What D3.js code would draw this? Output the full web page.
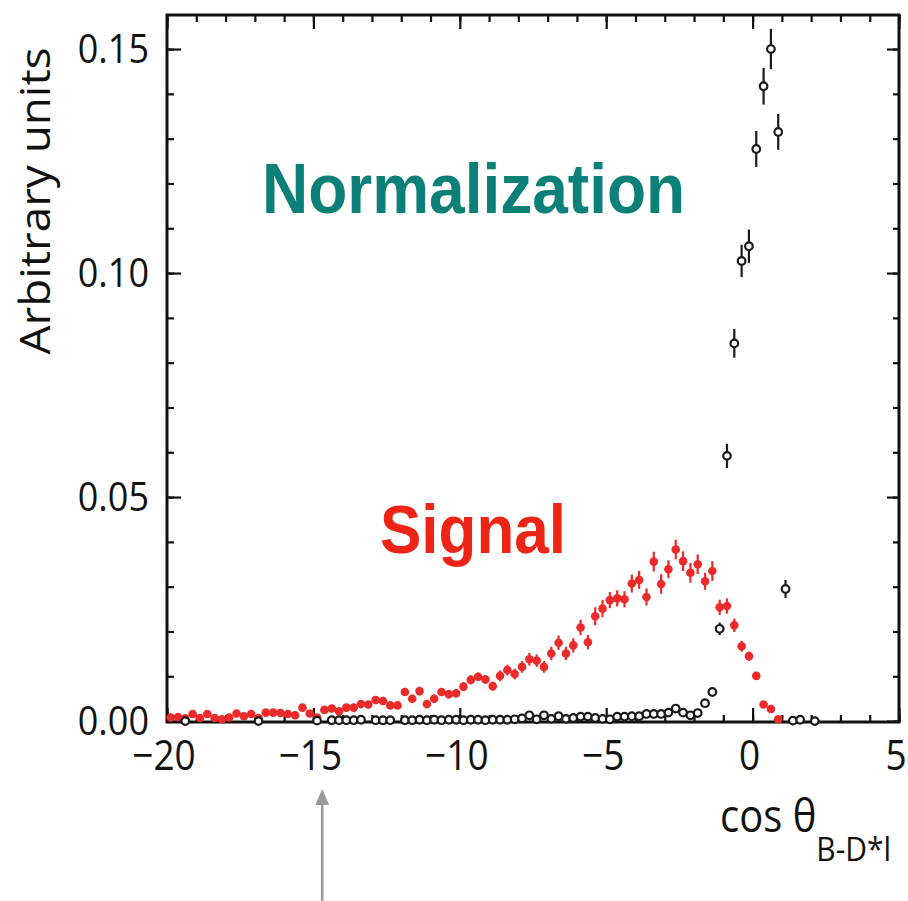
<!DOCTYPE html>
<html>
<head>
<meta charset="utf-8">
<script src="https://cdn.jsdelivr.net/npm/d3@7"></script>
<style>
  body { margin: 0; background: #fff; }
  svg { display: block; }
</style>
</head>
<body>
<svg id="chart" width="908" height="901"></svg>
<script>
// histogram binning: 0.25 wide bins from -20
var binLow = -20, binWidth = 0.25;

// signal (red, filled) - one value per bin, starting at bin 0
var signalVals = [0.0008,0.0009,0.0006,0.0016,0.0007,0.0016,0.0007,0.0004,0.0008,0.0017,
  0.0011,0.0016,0.0007,0.0019,0.0019,0.0018,0.0016,0.0013,0.0030,0.0017,
  0.0008,0.0025,0.0028,0.0022,0.0030,0.0030,0.0038,0.0037,0.0047,0.0045,
  0.0035,0.0035,0.0065,0.0050,0.0067,0.0038,0.0050,0.0065,0.0060,0.0062,
  0.0077,0.0092,0.0099,0.0093,0.0078,0.0101,0.0114,0.0105,0.0121,0.0138,
  0.0135,0.0121,0.0151,0.0175,0.0151,0.0169,0.0209,0.0176,0.0234,0.0251,
  0.0270,0.0274,0.0272,0.0307,0.0315,0.0277,0.0356,0.0306,0.0339,0.0383,
  0.0357,0.0331,0.0350,0.0312,0.0335,0.0254,0.0257,0.0214,0.0167,0.0145,
  0.0101,0.0037,0.0027,0.0004];
var signalErr = [0.0006,0.0006,0.0006,0.0006,0.0006,0.0006,0.0006,0.0006,0.0006,0.0006,
  0.0006,0.0006,0.0006,0.0007,0.0007,0.0007,0.0007,0.0007,0.0008,0.0007,
  0.0007,0.0008,0.0008,0.0008,0.0008,0.0008,0.0008,0.0008,0.0009,0.0009,
  0.0008,0.0008,0.0009,0.0009,0.0009,0.0008,0.0009,0.0009,0.0009,0.0009,
  0.0010,0.0010,0.0009,0.0010,0.0010,0.0012,0.0012,0.0012,0.0013,0.0014,
  0.0014,0.0013,0.0015,0.0016,0.0015,0.0016,0.0017,0.0016,0.0020,0.0019,
  0.0018,0.0018,0.0018,0.0020,0.0020,0.0019,0.0022,0.0022,0.0020,0.0022,
  0.0022,0.0022,0.0022,0.0019,0.0022,0.0017,0.0017,0.0015,0.0012,0.0010,
  0.0009,0.0006,0.0005,0.0004];

// normalization (black, open) - bins that have an entry
var normBins = [2,12,20,22,23,24,25,26,28,29,30,32,33,34,35,
  36,37,38,39,40,41,42,43,44,45,46,47,48,49,50,51,52,53,54,55,56,57,58,59,
  60,61,62,63,64,65,66,67,68,69,70,71,72,73,74,75,76,77,78,79,80,81,82,83,84,85,86,88];
var normVals = [0.0000,0.0000,0.0001,0.0002,0.0002,0.0002,0.0002,0.0003,0.0002,0.0002,0.0002,0.0002,0.0002,0.0003,0.0002,
  0.0003,0.0002,0.0003,0.0003,0.0002,0.0003,0.0003,0.0002,0.0003,0.0003,0.0003,0.0004,0.0006,0.0013,0.0004,0.0013,0.0005,0.0011,0.0005,0.0007,0.0010,0.0010,0.0007,0.0005,
  0.0004,0.0010,0.0010,0.0011,0.0011,0.0016,0.0016,0.0016,0.0019,0.0028,0.0019,0.0013,0.0018,0.0040,0.0065,0.0206,0.0592,0.0843,0.1027,0.1060,0.1277,0.1417,0.1500,0.1315,0.0295,0.0001,0.0003,0.0000];
var normErr = [0.0003,0.0003,0.0003,0.0003,0.0003,0.0003,0.0003,0.0003,0.0003,0.0003,0.0003,0.0003,0.0003,0.0003,0.0003,
  0.0003,0.0003,0.0003,0.0003,0.0003,0.0003,0.0003,0.0003,0.0003,0.0003,0.0003,0.0003,0.0003,0.0003,0.0003,0.0003,0.0003,0.0003,0.0003,0.0003,0.0003,0.0003,0.0003,0.0003,
  0.0003,0.0003,0.0003,0.0003,0.0003,0.0004,0.0004,0.0004,0.0004,0.0004,0.0004,0.0004,0.0004,0.0005,0.0006,0.0014,0.0027,0.0032,0.0036,0.0037,0.0040,0.0041,0.0045,0.0040,0.0020,0.0003,0.0003,0.0003];

var xMajor = [-20,-15,-10,-5,0,5];
var xMajorLabels = ["\u221220","\u221215","\u221210","\u22125","0","5"];
var xMinor = d3.range(-20, 5.01, 1);
var yMajor = [0,0.05,0.10,0.15];
var yMajorLabels = ["0.00","0.05","0.10","0.15"];
var yMinor = d3.range(0, 0.1501, 0.01);

var signalColor = "#ec2a2a", normColor = "#1a1a1a";
var stretch = 1.12; // original figure is a bit taller than wide

var svg = d3.select("#chart");
var x = d3.scaleLinear().domain([-20, 5]).range([167, 899]);
var y = d3.scaleLinear().domain([-0.0002, 0.1576]).range([722, 15]);
var center = function(i){ return binLow + binWidth*(i+0.5); };

// frame
svg.append("rect")
  .attr("x", x(-20)).attr("y", y(0.1576))
  .attr("width", x(5)-x(-20)).attr("height", y(-0.0002)-y(0.1576))
  .attr("fill", "none").attr("stroke", "#111").attr("stroke-width", 3);

// inward ticks on all four sides
var tickG = function(axis, tx, ty){
  var g = svg.append("g").attr("transform", "translate("+tx+","+ty+")").call(axis);
  g.select(".domain").remove();
  g.selectAll("text").remove();
  g.selectAll("line").attr("stroke", "#111").attr("stroke-width", 2.2);
  return g;
};
tickG(d3.axisBottom(x).tickValues(xMinor).tickSize(-7), 0, y(-0.0002));
tickG(d3.axisBottom(x).tickValues(xMajor).tickSize(-14), 0, y(-0.0002));
tickG(d3.axisTop(x).tickValues(xMinor).tickSize(-7), 0, y(0.1576));
tickG(d3.axisTop(x).tickValues(xMajor).tickSize(-14), 0, y(0.1576));
tickG(d3.axisLeft(y).tickValues(yMinor).tickSize(-7), x(-20), 0);
tickG(d3.axisLeft(y).tickValues(yMajor).tickSize(-14), x(-20), 0);
tickG(d3.axisRight(y).tickValues(yMinor).tickSize(-6), x(5), 0);
tickG(d3.axisRight(y).tickValues(yMajor).tickSize(-12), x(5), 0);

// tick labels
var lblFont = "'Open Sans', 'DejaVu Sans', sans-serif";
svg.append("g").selectAll("text").data(yMajor).enter().append("text")
  .attr("transform", function(d){ return "translate(149,"+(y(d)+14)+") scale(1,"+stretch+")"; })
  .attr("text-anchor", "end")
  .attr("font-family", lblFont).attr("font-size", 36).attr("fill", "#111")
  .text(function(d,i){ return yMajorLabels[i]; });

svg.append("g").selectAll("text").data(xMajor).enter().append("text")
  .attr("transform", function(d){ return "translate("+(x(d)-3)+",770) scale(1,"+stretch+")"; })
  .attr("text-anchor", "middle")
  .attr("font-family", lblFont).attr("font-size", 37).attr("fill", "#111")
  .text(function(d,i){ return xMajorLabels[i]; });

// axis titles
svg.append("text")
  .attr("transform", "translate(50,201) rotate(-90) scale(1.09,1)")
  .attr("text-anchor", "middle")
  .attr("font-family", lblFont).attr("font-size", 42).attr("fill", "#111")
  .text("Arbitrary units");

var xt = svg.append("text")
  .attr("transform", "translate(720,832) scale(1,"+stretch+")")
  .attr("font-family", lblFont).attr("font-size", 40).attr("fill", "#111");
xt.append("tspan").text("cos \u03b8");
xt.append("tspan").attr("dy", 26).attr("font-size", 30).text("B-D*l");

// series labels
svg.append("text")
  .attr("transform", "translate(262,213) scale(1,1.1)")
  .attr("font-family", "'Liberation Sans', Arial, sans-serif").attr("font-weight", "bold")
  .attr("font-size", 64).attr("fill", "#0b8078")
  .text("Normalization");
svg.append("text")
  .attr("transform", "translate(380,553) scale(1,1.1)")
  .attr("font-family", "'Liberation Sans', Arial, sans-serif").attr("font-weight", "bold")
  .attr("font-size", 62).attr("fill", "#ee2516")
  .text("Signal");

// signal points
var sig = signalVals.map(function(v,i){ return {x: center(i), v: v, e: signalErr[i]}; });
var sg = svg.append("g");
sg.selectAll("line").data(sig).enter().append("line")
  .attr("x1", function(d){ return x(d.x); }).attr("x2", function(d){ return x(d.x); })
  .attr("y1", function(d){ return y(d.v - d.e); }).attr("y2", function(d){ return y(d.v + d.e); })
  .attr("stroke", signalColor).attr("stroke-width", 2.2);
sg.selectAll("circle").data(sig).enter().append("circle")
  .attr("cx", function(d){ return x(d.x); }).attr("cy", function(d){ return y(d.v); })
  .attr("r", 4.3).attr("fill", signalColor);

// normalization points
var nrm = normBins.map(function(b,i){ return {x: center(b), v: normVals[i], e: normErr[i]}; });
var ng = svg.append("g");
ng.selectAll("line").data(nrm).enter().append("line")
  .attr("x1", function(d){ return x(d.x); }).attr("x2", function(d){ return x(d.x); })
  .attr("y1", function(d){ return y(d.v - d.e); }).attr("y2", function(d){ return y(d.v + d.e); })
  .attr("stroke", normColor).attr("stroke-width", 2.2);
ng.selectAll("circle").data(nrm).enter().append("circle")
  .attr("cx", function(d){ return x(d.x); }).attr("cy", function(d){ return y(d.v); })
  .attr("r", 3.8).attr("fill", "#fff").attr("stroke", normColor).attr("stroke-width", 2.2);

// grey pointer arrow under the axis
var ax = x(-14.7);
svg.append("line").attr("x1", ax).attr("x2", ax).attr("y1", 901).attr("y2", 802)
  .attr("stroke", "#9a9a9a").attr("stroke-width", 2.5);
svg.append("path")
  .attr("d", "M"+ax+",789 L"+(ax-7)+",805 L"+(ax+7)+",805 Z")
  .attr("fill", "#9a9a9a");
</script>
</body>
</html>
